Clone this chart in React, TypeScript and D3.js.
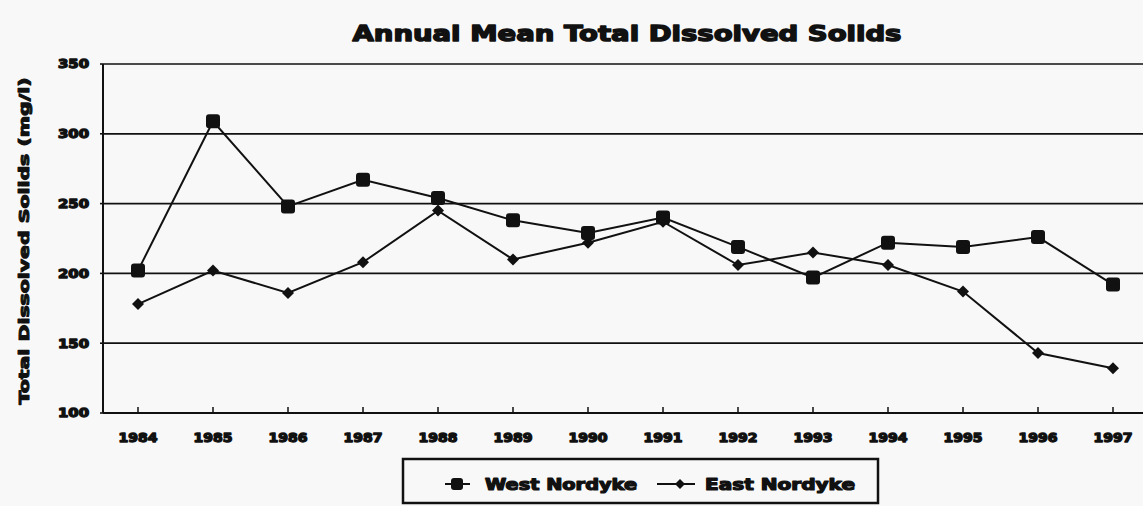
import React from 'react';
import * as d3 from 'd3';

const years = ['1984', '1985', '1986', '1987', '1988', '1989', '1990', '1991', '1992', '1993', '1994', '1995', '1996', '1997'];
const westNordyke = [202, 309, 248, 267, 254, 238, 229, 240, 219, 197, 222, 219, 226, 192];
const eastNordyke = [178, 202, 186, 208, 245, 210, 222, 237, 206, 215, 206, 187, 143, 132];
const yTicks = [100, 150, 200, 250, 300, 350];

const width = 1143;
const height = 506;
const font = '"DejaVu Sans", Arial, sans-serif';

// scanned original has very heavy glyphs, so thicken text with a stroke
const heavy = (w: number) => ({
  fontFamily: font,
  fontWeight: 'bold' as const,
  fill: '#111',
  stroke: '#111',
  strokeWidth: w,
  strokeLinejoin: 'round' as const,
});

export default function App() {
  const left = 103;
  const right = 1150;
  const xScale = d3.scalePoint<string>().domain(years).range([138, 1113]);
  const yScale = d3.scaleLinear().domain([100, 350]).range([413, 64]);

  const line = d3
    .line<number>()
    .x((d, i) => xScale(years[i]) as number)
    .y(d => yScale(d));

  const diamond = (cx: number, cy: number, r: number) =>
    `M${cx},${cy - r}L${cx + r},${cy}L${cx},${cy + r}L${cx - r},${cy}Z`;

  return (
    <svg
      width={width}
      height={height}
      style={{ position: 'absolute', left: 0, top: 0, display: 'block', background: '#f8f8f8' }}
    >
      {/* title */}
      <text
        x={627}
        y={41}
        textAnchor="middle"
        fontSize={21}
        textLength={549}
        lengthAdjust="spacingAndGlyphs"
        {...heavy(1.4)}
      >
        Annual Mean Total Dissolved Solids
      </text>

      {/* y axis label */}
      <text
        transform="translate(29,241) rotate(-90)"
        textAnchor="middle"
        fontSize={14}
        textLength={327}
        lengthAdjust="spacingAndGlyphs"
        {...heavy(1)}
      >
        Total Dissolved Solids (mg/l)
      </text>

      {/* grid lines */}
      {yTicks.map(t => (
        <g key={t}>
          {t > 100 && (
            <line x1={left} x2={right} y1={yScale(t)} y2={yScale(t)} stroke="#111" strokeWidth={1.7} />
          )}
          <line x1={left - 3} x2={left} y1={yScale(t)} y2={yScale(t)} stroke="#111" strokeWidth={1.6} />
          <text
            x={89}
            y={yScale(t)}
            dy="0.36em"
            textAnchor="end"
            fontSize={12}
            textLength={31}
            lengthAdjust="spacingAndGlyphs"
            {...heavy(1.3)}
          >
            {t}
          </text>
        </g>
      ))}

      {/* axes */}
      <line x1={left} x2={left} y1={yScale(350)} y2={yScale(100)} stroke="#111" strokeWidth={2} />
      <line x1={left} x2={right} y1={yScale(100)} y2={yScale(100)} stroke="#111" strokeWidth={2} />
      {years.map(y => (
        <g key={y}>
          <line
            x1={xScale(y)}
            x2={xScale(y)}
            y1={yScale(100)}
            y2={yScale(100) - 6}
            stroke="#111"
            strokeWidth={1.5}
          />
          <text
            x={xScale(y)}
            y={442}
            textAnchor="middle"
            fontSize={12}
            textLength={39}
            lengthAdjust="spacingAndGlyphs"
            {...heavy(1.3)}
          >
            {y}
          </text>
        </g>
      ))}

      {/* series */}
      <path d={line(eastNordyke) || ''} fill="none" stroke="#111" strokeWidth={2} />
      <path d={line(westNordyke) || ''} fill="none" stroke="#111" strokeWidth={2} />
      {eastNordyke.map((v, i) => (
        <path key={'e' + i} d={diamond(xScale(years[i]) as number, yScale(v), 6)} fill="#111" />
      ))}
      {westNordyke.map((v, i) => (
        <rect
          key={'w' + i}
          x={(xScale(years[i]) as number) - 7}
          y={yScale(v) - 7}
          width={14}
          height={14}
          rx={3}
          fill="#111"
        />
      ))}

      {/* legend */}
      <rect x={403} y={459} width={475} height={44} fill="none" stroke="#111" strokeWidth={2.5} />
      <line x1={445} x2={470} y1={484} y2={484} stroke="#111" strokeWidth={2} />
      <rect x={451} y={478} width={12} height={12} rx={3} fill="#111" />
      <text x={485} y={490} fontSize={15} textLength={152} lengthAdjust="spacingAndGlyphs" {...heavy(1.2)}>
        West Nordyke
      </text>
      <line x1={657} x2={695} y1={484} y2={484} stroke="#111" strokeWidth={2} />
      <path d={diamond(680, 484, 5)} fill="#111" />
      <text x={705} y={490} fontSize={15} textLength={150} lengthAdjust="spacingAndGlyphs" {...heavy(1.2)}>
        East Nordyke
      </text>
    </svg>
  );
}
